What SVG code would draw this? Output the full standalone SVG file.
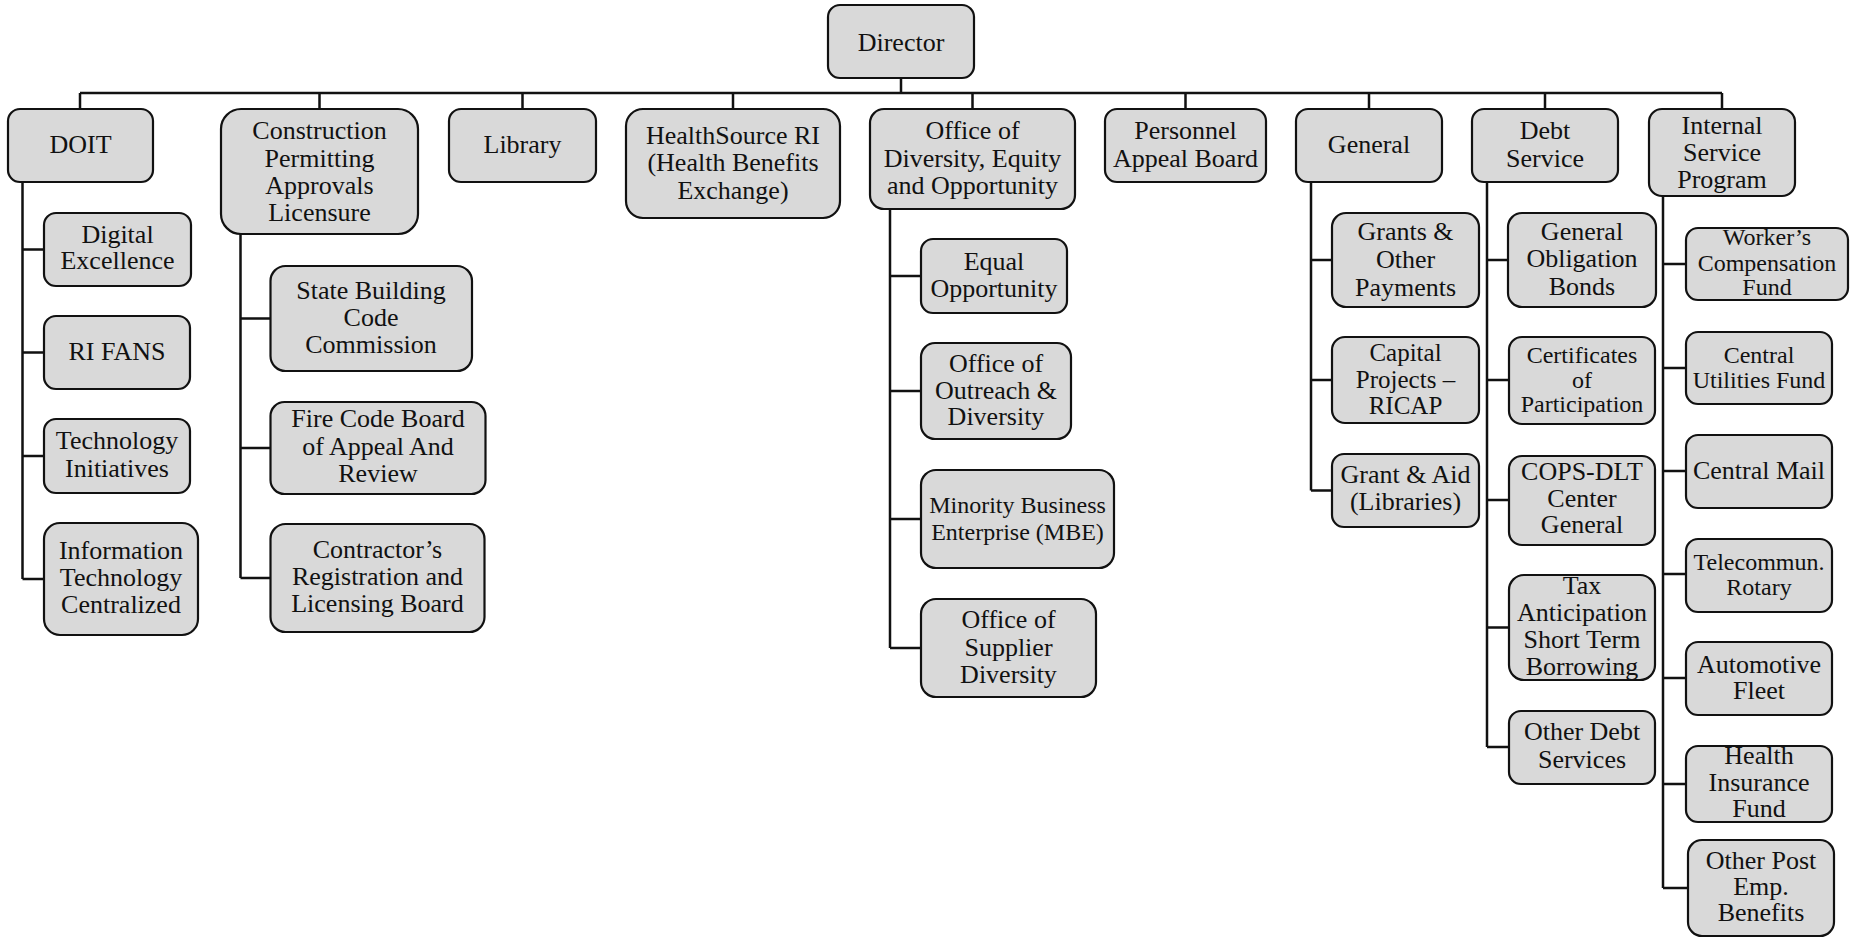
<svg xmlns="http://www.w3.org/2000/svg" width="1850" height="939" viewBox="0 0 1850 939">
<style>
.b{fill:#d9d9d9;stroke:#111;stroke-width:2.2}
.t{font-family:'Liberation Serif','Times New Roman',serif;font-size:26px;fill:#111;text-anchor:middle}
.s{font-size:24px}
.c{fill:none;stroke:#111;stroke-width:2.5}
</style>
<rect width="1850" height="939" fill="#fff"/>
<g id="connectors" class="c">
<path d="M901 78V93M80 93H1722M80 93V109M319.5 93V109M522.5 93V109M733 93V109M972.5 93V109M1185.5 93V109M1369 93V109M1545 93V109M1722 93V109"/>
<path d="M22.5 182V579M22.5 249.5H44M22.5 352.5H44M22.5 456H44M22.5 579H44"/>
<path d="M240.5 234V578M240.5 318.5H270.5M240.5 448H270.5M240.5 578H270.5"/>
<path d="M890 209V648M890 276H921M890 391H921M890 519H921M890 648H921"/>
<path d="M1311 182V490.5M1311 260H1332M1311 380H1332M1311 490.5H1332"/>
<path d="M1487 182V747M1487 260H1508M1487 380H1509M1487 500H1509M1487 627.5H1509M1487 747H1509"/>
<path d="M1663 196V888M1663 264H1686M1663 368H1686M1663 471H1686M1663 574H1686M1663 678H1686M1663 784H1686M1663 888H1688"/>
</g>
<g id="director"><rect class="b" x="828" y="5" width="146" height="73" rx="12"/><text class="t" x="901" y="51">Director</text></g>
<g id="doit"><rect class="b" x="8" y="109" width="145" height="73" rx="12"/><text class="t" x="80.5" y="153">DOIT</text></g>
<g id="construction"><rect class="b" x="221" y="109" width="197" height="125" rx="20"/><text class="t" x="319.5"><tspan x="319.5" y="139">Construction</tspan><tspan x="319.5" y="166.5">Permitting</tspan><tspan x="319.5" y="193.5">Approvals</tspan><tspan x="319.5" y="221">Licensure</tspan></text></g>
<g id="library"><rect class="b" x="449" y="109" width="147" height="73" rx="12"/><text class="t" x="522.5" y="153">Library</text></g>
<g id="healthsource"><rect class="b" x="626" y="109" width="214" height="109" rx="17"/><text class="t"><tspan x="733" y="144">HealthSource RI</tspan><tspan x="733" y="171">(Health Benefits</tspan><tspan x="733" y="199">Exchange)</tspan></text></g>
<g id="odeo"><rect class="b" x="870" y="109" width="205" height="100" rx="14"/><text class="t"><tspan x="972.5" y="139">Office of</tspan><tspan x="972.5" y="167">Diversity, Equity</tspan><tspan x="972.5" y="194">and Opportunity</tspan></text></g>
<g id="personnel"><rect class="b" x="1105" y="109" width="161" height="73" rx="12"/><text class="t"><tspan x="1185.5" y="139">Personnel</tspan><tspan x="1185.5" y="167">Appeal Board</tspan></text></g>
<g id="general"><rect class="b" x="1296" y="109" width="146" height="73" rx="12"/><text class="t" x="1369" y="153">General</text></g>
<g id="debt"><rect class="b" x="1472" y="109" width="146" height="73" rx="12"/><text class="t"><tspan x="1545" y="139">Debt</tspan><tspan x="1545" y="167">Service</tspan></text></g>
<g id="isp"><rect class="b" x="1649" y="109" width="146" height="87" rx="13"/><text class="t"><tspan x="1722" y="134">Internal</tspan><tspan x="1722" y="161">Service</tspan><tspan x="1722" y="188">Program</tspan></text></g>
<g id="digital"><rect class="b" x="44" y="213" width="147" height="73" rx="12"/><text class="t"><tspan x="117.5" y="243">Digital</tspan><tspan x="117.5" y="269">Excellence</tspan></text></g>
<g id="rifans"><rect class="b" x="44" y="316" width="146" height="73" rx="12"/><text class="t" x="117" y="360">RI FANS</text></g>
<g id="techinit"><rect class="b" x="44" y="419" width="146" height="74" rx="12"/><text class="t"><tspan x="117" y="449">Technology</tspan><tspan x="117" y="477">Initiatives</tspan></text></g>
<g id="infotech"><rect class="b" x="44" y="523" width="154" height="112" rx="16"/><text class="t"><tspan x="121" y="559">Information</tspan><tspan x="121" y="586">Technology</tspan><tspan x="121" y="613">Centralized</tspan></text></g>
<g id="statebuilding"><rect class="b" x="270.5" y="266" width="201.5" height="105" rx="15"/><text class="t"><tspan x="371" y="299">State Building</tspan><tspan x="371" y="326">Code</tspan><tspan x="371" y="353">Commission</tspan></text></g>
<g id="firecode"><rect class="b" x="270.5" y="402" width="215" height="92" rx="14"/><text class="t"><tspan x="378" y="427">Fire Code Board</tspan><tspan x="378" y="455">of Appeal And</tspan><tspan x="378" y="482">Review</tspan></text></g>
<g id="contractors"><rect class="b" x="270.5" y="524" width="214" height="108" rx="15"/><text class="t"><tspan x="377.5" y="558">Contractor’s</tspan><tspan x="377.5" y="585">Registration and</tspan><tspan x="377.5" y="612">Licensing Board</tspan></text></g>
<g id="equalopp"><rect class="b" x="921" y="239" width="146" height="74" rx="12"/><text class="t"><tspan x="994" y="270">Equal</tspan><tspan x="994" y="297">Opportunity</tspan></text></g>
<g id="outreach"><rect class="b" x="921" y="343" width="150" height="96" rx="14"/><text class="t"><tspan x="996" y="372">Office of</tspan><tspan x="996" y="399">Outreach &amp;</tspan><tspan x="996" y="425">Diversity</tspan></text></g>
<g id="mbe"><rect class="b" x="921" y="470" width="193" height="98" rx="15"/><text class="t s"><tspan x="1017.5" y="513">Minority Business</tspan><tspan x="1017.5" y="540">Enterprise (MBE)</tspan></text></g>
<g id="supplier"><rect class="b" x="921" y="599" width="175" height="98" rx="15"/><text class="t"><tspan x="1008.5" y="628">Office of</tspan><tspan x="1008.5" y="656">Supplier</tspan><tspan x="1008.5" y="683">Diversity</tspan></text></g>
<g id="grants"><rect class="b" x="1332" y="213" width="147" height="94" rx="14"/><text class="t"><tspan x="1405.5" y="240">Grants &amp;</tspan><tspan x="1405.5" y="268">Other</tspan><tspan x="1405.5" y="296">Payments</tspan></text></g>
<g id="capital"><rect class="b" x="1332" y="337" width="147" height="86" rx="13"/><text class="t" style="font-size:25px"><tspan x="1405.5" y="361">Capital</tspan><tspan x="1405.5" y="387.5">Projects –</tspan><tspan x="1405.5" y="414">RICAP</tspan></text></g>
<g id="grantaid"><rect class="b" x="1332" y="454" width="147" height="73" rx="12"/><text class="t"><tspan x="1405.5" y="483">Grant &amp; Aid</tspan><tspan x="1405.5" y="510">(Libraries)</tspan></text></g>
<g id="gob"><rect class="b" x="1508" y="213" width="148" height="94" rx="14"/><text class="t"><tspan x="1582" y="240">General</tspan><tspan x="1582" y="267">Obligation</tspan><tspan x="1582" y="295">Bonds</tspan></text></g>
<g id="certificates"><rect class="b" x="1509" y="337" width="146" height="87" rx="13"/><text class="t s"><tspan x="1582" y="363">Certificates</tspan><tspan x="1582" y="388">of</tspan><tspan x="1582" y="412">Participation</tspan></text></g>
<g id="cops"><rect class="b" x="1509" y="456" width="146" height="89" rx="13"/><text class="t"><tspan x="1582" y="480">COPS-DLT</tspan><tspan x="1582" y="507">Center</tspan><tspan x="1582" y="533">General</tspan></text></g>
<g id="tax"><rect class="b" x="1509" y="575" width="146" height="105" rx="15"/><text class="t"><tspan x="1582" y="594">Tax</tspan><tspan x="1582" y="621">Anticipation</tspan><tspan x="1582" y="648">Short Term</tspan><tspan x="1582" y="675">Borrowing</tspan></text></g>
<g id="otherdebt"><rect class="b" x="1509" y="711" width="146" height="73" rx="12"/><text class="t"><tspan x="1582" y="740">Other Debt</tspan><tspan x="1582" y="768">Services</tspan></text></g>
<g id="workers"><rect class="b" x="1686" y="228" width="162" height="72" rx="12"/><text class="t s"><tspan x="1767" y="245">Worker’s</tspan><tspan x="1767" y="271">Compensation</tspan><tspan x="1767" y="295">Fund</tspan></text></g>
<g id="centralutil"><rect class="b" x="1686" y="332" width="146" height="72" rx="12"/><text class="t s"><tspan x="1759" y="363">Central</tspan><tspan x="1759" y="388">Utilities Fund</tspan></text></g>
<g id="centralmail"><rect class="b" x="1686" y="435" width="146" height="73" rx="12"/><text class="t" x="1759" y="479">Central Mail</text></g>
<g id="telecommun"><rect class="b" x="1686" y="539" width="146" height="73" rx="12"/><text class="t s"><tspan x="1759" y="570">Telecommun.</tspan><tspan x="1759" y="595">Rotary</tspan></text></g>
<g id="automotive"><rect class="b" x="1686" y="642" width="146" height="73" rx="12"/><text class="t"><tspan x="1759" y="673">Automotive</tspan><tspan x="1759" y="699">Fleet</tspan></text></g>
<g id="healthins"><rect class="b" x="1686" y="746" width="146" height="76" rx="12"/><text class="t"><tspan x="1759" y="764">Health</tspan><tspan x="1759" y="791">Insurance</tspan><tspan x="1759" y="817">Fund</tspan></text></g>
<g id="otherpost"><rect class="b" x="1688" y="840" width="146" height="96" rx="14"/><text class="t"><tspan x="1761" y="869">Other Post</tspan><tspan x="1761" y="895">Emp.</tspan><tspan x="1761" y="921">Benefits</tspan></text></g>
</svg>
